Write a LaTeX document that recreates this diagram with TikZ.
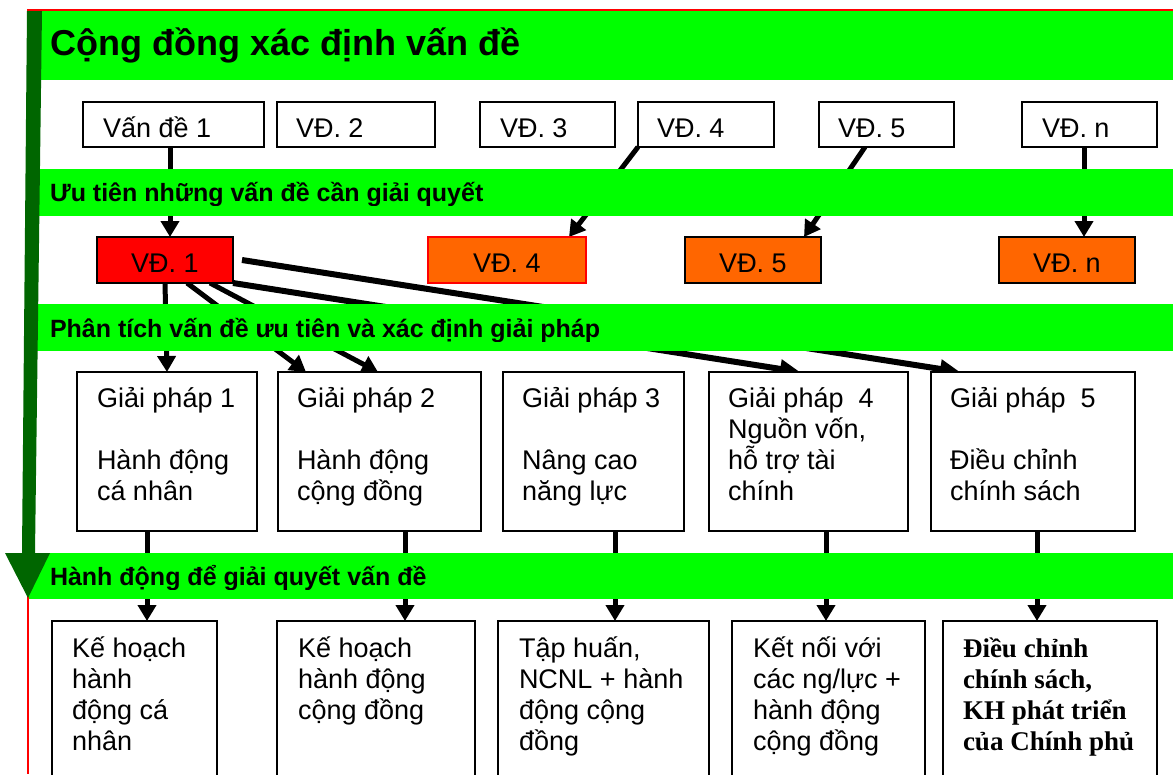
\documentclass[tikz,border=0pt]{standalone}
\usepackage{fontspec}
\setmainfont{Liberation Sans}
\newfontfamily\serifbold{Liberation Serif}
\usetikzlibrary{arrows.meta,calc}
\definecolor{barg}{RGB}{0,255,0}
\definecolor{darkg}{RGB}{0,102,0}
\definecolor{org}{RGB}{255,102,0}
\definecolor{redc}{RGB}{255,0,0}
\pgfdeclarelayer{bg}
\pgfdeclarelayer{conn}
\pgfdeclarelayer{bars}
\pgfsetlayers{bg,conn,bars,main}
\tikzset{
  box/.style={draw=black, line width=1.4pt, fill=white, anchor=north west, inner sep=0pt, outer sep=0pt},
  vbox/.style={box, fill=org, text height=24pt, text depth=0pt, font=\fontsize{27}{31}\selectfont},
  lbl/.style={anchor=north west, inner sep=0pt, outer sep=0pt, align=left, font=\fontsize{27}{31}\selectfont},
  one/.style={anchor=base west, inner sep=0pt, outer sep=0pt, font=\fontsize{27}{31}\selectfont},
  bartxt/.style={anchor=base west, inner sep=0pt, outer sep=0pt, font=\fontsize{25}{28}\selectfont\bfseries},
  arr/.style={line width=5pt, -{Triangle[width=18pt,length=16pt]}},
  arrL/.style={line width=6pt, -{Triangle[width=18pt,length=20pt]}},
  bar/.style={fill=barg},
}
\newcommand{\fl}{\rule{0pt}{28pt}}
\begin{document}
\begin{tikzpicture}[x=1pt,y=-1pt]
\useasboundingbox (0,0) rectangle (1173,774);
\begin{pgfonlayer}{bg}
\fill[white] (0,0) rectangle (1173,774);
\end{pgfonlayer}

% ---------- row 1 ----------
\node[box, minimum width=181pt, minimum height=45pt] (v1) at (83,102) {};
\node[box, minimum width=158pt, minimum height=45pt] (v2) at (277,102) {};
\node[box, minimum width=135pt, minimum height=45pt] (v3) at (480,102) {};
\node[box, minimum width=136pt, minimum height=45pt] (v4) at (638,102) {};
\node[box, minimum width=135pt, minimum height=45pt] (v5) at (819,102) {};
\node[box, minimum width=135pt, minimum height=45pt] (vn) at (1022,102) {};
\node[one] (v1t) at (103,137) {Vấn đề 1};
\node[one] (v2t) at (296,137) {VĐ. 2};
\node[one] (v3t) at (500,137) {VĐ. 3};
\node[one] (v4t) at (657,137) {VĐ. 4};
\node[one] (v5t) at (838,137) {VĐ. 5};
\node[one] (vnt) at (1042,137) {VĐ. n};

% ---------- row 2 ----------
\node[vbox, fill=redc, minimum width=136pt, minimum height=46pt] (q1) at (97,237) {VĐ. 1};
\node[vbox, draw=redc, minimum width=158pt, minimum height=46pt] (q4) at (428,237) {VĐ. 4};
\node[vbox, minimum width=136pt, minimum height=46pt] (q5) at (685,237) {VĐ. 5};
\node[vbox, minimum width=136pt, minimum height=46pt] (qn) at (999,237) {VĐ. n};

% ---------- row 3 ----------
\node[box, minimum width=180pt, minimum height=159pt] (g1) at (77,372) {};
\node[box, minimum width=203pt, minimum height=159pt] (g2) at (278,372) {};
\node[box, minimum width=181pt, minimum height=159pt] (g3) at (503,372) {};
\node[box, minimum width=199pt, minimum height=159pt] (g4) at (709,372) {};
\node[box, minimum width=204pt, minimum height=159pt] (g5) at (931,372) {};
\node[lbl] (g1t) at (97,379) {\fl Giải pháp 1\\[31pt]Hành động\\cá nhân};
\node[lbl] (g2t) at (297,379) {\fl Giải pháp 2\\[31pt]Hành động\\cộng đồng};
\node[lbl] (g3t) at (522,379) {\fl Giải pháp 3\\[31pt]Nâng cao\\năng lực};
\node[lbl] (g4t) at (728,379) {\fl Giải pháp\ \ 4\\Nguồn vốn,\\hỗ trợ tài\\chính};
\node[lbl] (g5t) at (950,379) {\fl Giải pháp\ \ 5\\[31pt]Điều chỉnh\\chính sách};

% ---------- row 4 ----------
\node[box, minimum width=165pt, minimum height=180pt] (b1) at (52,621) {};
\node[box, minimum width=198pt, minimum height=180pt] (b2) at (277,621) {};
\node[box, minimum width=211pt, minimum height=180pt] (b3) at (498,621) {};
\node[box, minimum width=193pt, minimum height=180pt] (b4) at (732,621) {};
\node[box, minimum width=214pt, minimum height=180pt] (b5) at (943,621) {};
\node[lbl] (b1t) at (72,629) {\fl Kế hoạch\\hành\\động cá\\nhân};
\node[lbl] (b2t) at (298,629) {\fl Kế hoạch\\hành động\\cộng đồng};
\node[lbl] (b3t) at (519,629) {\fl Tập huấn,\\NCNL + hành\\động cộng\\đồng};
\node[lbl] (b4t) at (753,629) {\fl Kết nối với\\các ng/lực +\\hành động\\cộng đồng};
\node[lbl, font=\serifbold\bfseries\fontsize{27}{31}\selectfont] (b5t) at (963,629) {\fl Điều chỉnh\\chính sách,\\KH phát triển\\của Chính phủ};

% ---------- x positions of connectors ----------
\coordinate (a1) at (170,0);
\coordinate (a4) at (569,0);
\coordinate (a5s) at (865,0);
\coordinate (a5e) at (804,0);
\coordinate (an) at (1084,0);
\coordinate (p1s) at (165,0);
\coordinate (p1e) at (167,0);
\coordinate (p2s) at (187,0);
\coordinate (p2e) at (306,0);
\coordinate (p3s) at (210,0);
\coordinate (p3e) at (378,0);
\coordinate (p4e) at (800,0);
\coordinate (p5e) at (960,0);
\coordinate (d1) at (147,0);
\coordinate (d2) at (405,0);
\coordinate (d3) at (615,0);
\coordinate (d4) at (826,0);
\coordinate (d5) at (1037,0);

\begin{pgfonlayer}{conn}
\draw[arr] (v1.south -| a1) -- (q1.north -| a1);
\draw[arr] (v4.south west) -- (q4.north -| a4);
\draw[arr] (v5.south -| a5s) -- (q5.north -| a5e);
\draw[arr] (vn.south -| an) -- (qn.north -| an);
\draw[arr] (q1.south -| p1s) -- (g1.north -| p1e);
\draw[arr] (q1.south -| p2s) -- (g2.north -| p2e);
\draw[arr] (q1.south -| p3s) -- (g2.north -| p3e);
\draw[arrL] (q1.south east) -- (g4.north -| p4e);
\draw[arrL] ([xshift=9pt]q1.east) -- (g5.north -| p5e);
\draw[arr] (g1.south -| d1) -- (b1.north -| d1);
\draw[arr] (g2.south -| d2) -- (b2.north -| d2);
\draw[arr] (g3.south -| d3) -- (b3.north -| d3);
\draw[arr] (g4.south -| d4) -- (b4.north -| d4);
\draw[arr] (g5.south -| d5) -- (b5.north -| d5);
\end{pgfonlayer}

\begin{pgfonlayer}{bars}
\fill[bar] (28,11) rectangle (1173,80);
\fill[bar] (28,169) rectangle (1173,216);
\fill[bar] (28,304) rectangle (1173,351);
\fill[bar] (28,553) rectangle (1173,599);
\end{pgfonlayer}

% bar texts
\node[anchor=base west, inner sep=0pt, font=\fontsize{36}{40}\selectfont\bfseries] (title) at (50,55) {Cộng đồng xác định vấn đề};
\begin{scope}
\clip (28,169) rectangle (1173,205);
\node[bartxt] (h2) at (50,201) {Ưu tiên những vấn đề cần giải quyết};
\end{scope}
\begin{scope}
\clip (28,304) rectangle (1173,341);
\node[bartxt] (h3) at (50,337) {Phân tích vấn đề ưu tiên và xác định giải pháp};
\end{scope}
\begin{scope}
\clip (28,553) rectangle (1173,589);
\node[bartxt] (h4) at (50,585) {Hành động để giải quyết vấn đề};
\end{scope}

% frame lines
\draw[redc, line width=1.5pt] (27,10) -- (1173,10);
\draw[redc, line width=1.2pt] (28,10) -- (28,774);

% big green arrow
\fill[darkg] (27,11) -- (42,11) -- (35,553) -- (50,553) -- (28,598) -- (5,553) -- (22,553) -- cycle;
\end{tikzpicture}
\end{document}
